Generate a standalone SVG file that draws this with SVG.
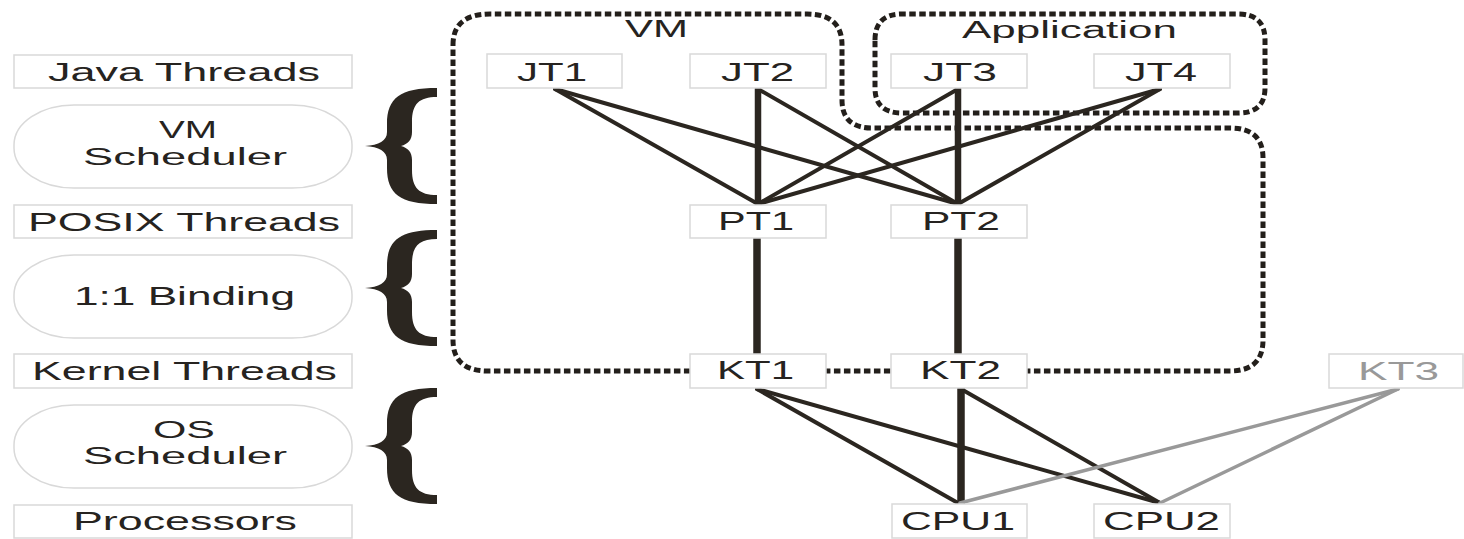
<svg xmlns="http://www.w3.org/2000/svg" width="1464" height="539" viewBox="0 0 1464 539">
  <defs>
    <style>
      .lbl { font-family: "Liberation Sans", Arial, sans-serif; fill: #262320; font-size: 25px; }
      .sm { font-size: 23px; }
      .grey { fill: #999; }
      .box { fill: #fff; stroke: #d9d9d9; stroke-width: 1.5; }
      .pill { fill: #fff; stroke: #d9d9d9; stroke-width: 1.5; }
      .dots { fill: none; stroke: #231f1b; stroke-width: 5; stroke-dasharray: 6.5 3.5; }
      .edge { stroke: #2b2620; stroke-width: 4; fill: none; stroke-linecap: round; }
      .edge.v { stroke-width: 6.5; stroke-linecap: butt; }
      .edge.g { stroke: #999; stroke-width: 3.5; }
      .brace { fill: #2b2620; }
    </style>
    <!-- curly brace, 72 wide x 116 tall, point on the left -->
    <path id="brace" class="brace" d="M 72 0 C 35 0 22 10 22 36 L 22 44 C 22 53 14 57 0 58 C 14 59 22 63 22 72 L 22 80 C 22 106 35 116 72 116 L 72 107 C 54 107 47 100 47 82 L 47 72 C 47 64 43 60 36 58 C 43 56 47 52 47 44 L 47 34 C 47 16 54 9 72 9 Z"/>
  </defs>

  <rect width="1464" height="539" fill="#fff"/>

  <!-- layer legend on the left -->
  <g id="legend-java"><rect class="box" x="14" y="55" width="338" height="33"/><text class="lbl" x="48" y="81" textLength="272" lengthAdjust="spacingAndGlyphs">Java Threads</text></g>
  <g id="legend-vmsched"><rect class="pill" x="14" y="105" width="338" height="83" rx="60" ry="40"/><text class="lbl sm" x="159" y="138" textLength="58" lengthAdjust="spacingAndGlyphs">VM</text><text class="lbl sm" x="83" y="165" textLength="204" lengthAdjust="spacingAndGlyphs">Scheduler</text></g>
  <g id="legend-posix"><rect class="box" x="14" y="205" width="338" height="33"/><text class="lbl" x="28" y="231" textLength="312" lengthAdjust="spacingAndGlyphs">POSIX Threads</text></g>
  <g id="legend-binding"><rect class="pill" x="14" y="255" width="338" height="83" rx="60" ry="40"/><text class="lbl" x="74" y="305" textLength="221" lengthAdjust="spacingAndGlyphs">1:1 Binding</text></g>
  <g id="legend-kernel"><rect class="box" x="14" y="354" width="338" height="34"/><text class="lbl" x="32" y="380" textLength="305" lengthAdjust="spacingAndGlyphs">Kernel Threads</text></g>
  <g id="legend-ossched"><rect class="pill" x="14" y="405" width="338" height="83" rx="60" ry="40"/><text class="lbl sm" x="153" y="438" textLength="62" lengthAdjust="spacingAndGlyphs">OS</text><text class="lbl sm" x="83" y="464" textLength="204" lengthAdjust="spacingAndGlyphs">Scheduler</text></g>
  <g id="legend-cpu"><rect class="box" x="14" y="505" width="338" height="33"/><text class="lbl" x="73" y="530" textLength="224" lengthAdjust="spacingAndGlyphs">Processors</text></g>

  <!-- braces -->
  <g id="braces">
    <use href="#brace" x="365" y="88"/>
    <use href="#brace" x="365" y="230"/>
    <use href="#brace" x="365" y="388"/>
  </g>

  <!-- dotted groupings -->
  <g id="group-vm">
    <path class="dots" d="M 453 45 Q 453 14 490 14 L 807 14 Q 842 14 842 45 L 842 100 Q 842 128 872 128 L 1230 128 Q 1263 128 1263 158 L 1263 340 Q 1263 371 1230 371 L 488 371 Q 453 371 453 340 Z"/>
    <text class="lbl sm" x="625" y="37" textLength="63" lengthAdjust="spacingAndGlyphs">VM</text>
  </g>
  <g id="group-app">
    <path class="dots" d="M 875 40 Q 875 14 902 14 L 1238 14 Q 1265 14 1265 40 L 1265 88 Q 1265 113 1238 113 L 902 113 Q 875 113 875 88 Z"/>
    <text class="lbl sm" x="962" y="38" textLength="215" lengthAdjust="spacingAndGlyphs">Application</text>
  </g>

  <!-- connectors -->
  <g id="connectors">
    <line class="edge" x1="555" y1="89" x2="758" y2="204"/>
    <line class="edge" x1="555" y1="89" x2="958" y2="204"/>
    <line class="edge v" x1="758" y1="88" x2="758" y2="205"/>
    <line class="edge" x1="758" y1="89" x2="958" y2="204"/>
    <line class="edge" x1="958" y1="89" x2="758" y2="204"/>
    <line class="edge v" x1="958" y1="88" x2="958" y2="205"/>
    <line class="edge" x1="1160" y1="89" x2="758" y2="204"/>
    <line class="edge" x1="1160" y1="89" x2="958" y2="204"/>
    <line class="edge v" x1="757" y1="238" x2="757" y2="354" style="stroke-width:7.5"/>
    <line class="edge v" x1="958" y1="238" x2="958" y2="354" style="stroke-width:7.5"/>
    <line class="edge" x1="757" y1="389" x2="958" y2="503"/>
    <line class="edge" x1="757" y1="389" x2="1160" y2="503"/>
    <line class="edge v" x1="961" y1="388" x2="961" y2="504" style="stroke-width:7.5"/>
    <line class="edge" x1="961" y1="389" x2="1160" y2="503"/>
    <line class="edge g" x1="1398" y1="389" x2="960" y2="503"/>
    <line class="edge g" x1="1398" y1="389" x2="1160" y2="503"/>
  </g>

  <!-- thread nodes -->
  <g id="JT1"><rect class="box" x="487" y="54" width="135" height="34"/><text class="lbl" x="517" y="81" textLength="70" lengthAdjust="spacingAndGlyphs">JT1</text></g>
  <g id="JT2"><rect class="box" x="690" y="54" width="136" height="34"/><text class="lbl" x="721" y="81" textLength="73" lengthAdjust="spacingAndGlyphs">JT2</text></g>
  <g id="JT3"><rect class="box" x="891" y="54" width="136" height="34"/><text class="lbl" x="923" y="81" textLength="74" lengthAdjust="spacingAndGlyphs">JT3</text></g>
  <g id="JT4"><rect class="box" x="1094" y="54" width="136" height="34"/><text class="lbl" x="1125" y="81" textLength="72" lengthAdjust="spacingAndGlyphs">JT4</text></g>
  <g id="PT1"><rect class="box" x="690" y="205" width="136" height="33"/><text class="lbl" x="718" y="230" textLength="76" lengthAdjust="spacingAndGlyphs">PT1</text></g>
  <g id="PT2"><rect class="box" x="891" y="205" width="136" height="33"/><text class="lbl" x="922" y="230" textLength="78" lengthAdjust="spacingAndGlyphs">PT2</text></g>
  <g id="KT1"><rect class="box" x="690" y="354" width="136" height="34"/><text class="lbl" x="717" y="379" textLength="77" lengthAdjust="spacingAndGlyphs">KT1</text></g>
  <g id="KT2"><rect class="box" x="891" y="354" width="136" height="34"/><text class="lbl" x="920" y="379" textLength="81" lengthAdjust="spacingAndGlyphs">KT2</text></g>
  <g id="KT3"><rect class="box" x="1329" y="354" width="134" height="34"/><text class="lbl grey" x="1358" y="380" textLength="81" lengthAdjust="spacingAndGlyphs">KT3</text></g>
  <g id="CPU1"><rect class="box" x="892" y="504" width="135" height="34"/><text class="lbl" x="901" y="530" textLength="114" lengthAdjust="spacingAndGlyphs">CPU1</text></g>
  <g id="CPU2"><rect class="box" x="1094" y="504" width="136" height="34"/><text class="lbl" x="1103" y="530" textLength="117" lengthAdjust="spacingAndGlyphs">CPU2</text></g>
</svg>
